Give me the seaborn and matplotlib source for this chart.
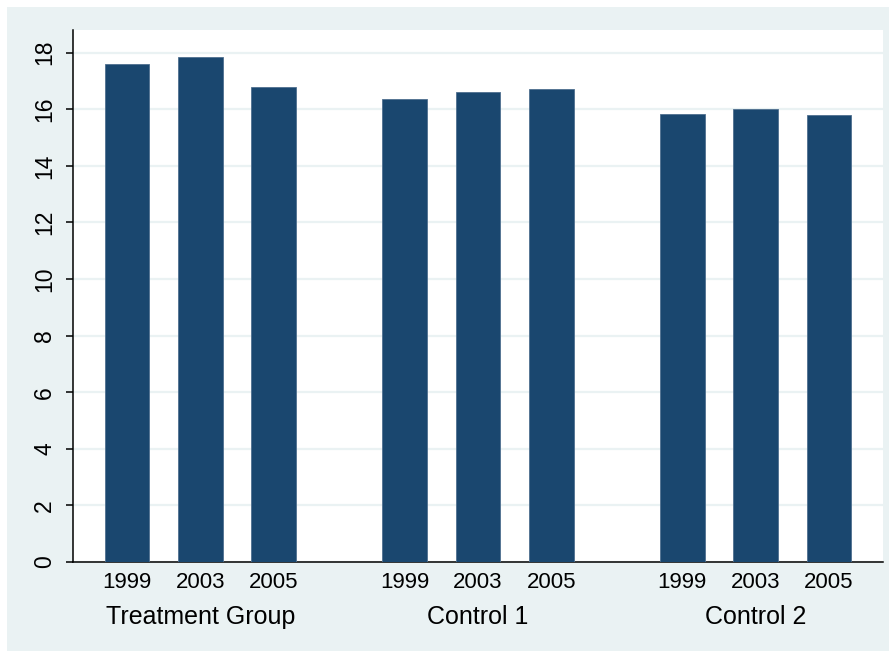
import matplotlib
matplotlib.use('Agg')
import matplotlib.pyplot as plt
import matplotlib.transforms as mtransforms
from matplotlib.patches import Rectangle
import seaborn as sns
import pandas as pd

plt.rcParams['font.family'] = ['Liberation Sans', 'DejaVu Sans']

groups = ['Treatment Group', 'Control 1', 'Control 2']
years = ['1999', '2003', '2005']
values = [
    [17.59, 17.85, 16.80],
    [16.37, 16.60, 16.72],
    [15.82, 16.00, 15.81],
]

BAR_COLOR = '#1A476F'
BG = '#EAF2F3'
GROUP_GAP = 3.78  # distance between first bars of neighbouring groups

rows = []
for gi, g in enumerate(groups):
    for yi, yr in enumerate(years):
        rows.append({'group': g, 'year': yr, 'value': values[gi][yi],
                     'pos': gi * GROUP_GAP + yi})
df = pd.DataFrame(rows)

fig = plt.figure(figsize=(8.96, 6.58), dpi=100)
fig.patch.set_facecolor('white')
fig.patches.append(Rectangle((7 / 896, 7 / 658), 882 / 896, 644 / 658,
                             transform=fig.transFigure, facecolor=BG,
                             edgecolor='none', zorder=-10))

ax = fig.add_axes([73 / 896, 96 / 658, 810 / 896, 532 / 658])
ax.set_facecolor('white')

sns.barplot(data=df, x='pos', y='value', native_scale=True, width=0.61,
            color=BAR_COLOR, saturation=1, edgecolor='#4F6F8F', linewidth=0.6,
            ax=ax, zorder=3)

ax.set_xlim(-0.735, 2 * GROUP_GAP + 2 + 0.735)
ax.set_ylim(0, 18.8)
ax.set_yticks(range(0, 19, 2))
ax.set_yticklabels([str(v) for v in range(0, 19, 2)], rotation=90, va='center')
ax.set_xticks(df['pos'])
ax.set_xticklabels(df['year'])
ax.tick_params(axis='x', length=0, pad=7, labelsize=16)
ax.tick_params(axis='y', length=5, width=1.1, pad=7, labelsize=16.5, direction='out')
ax.set_xlabel('')
ax.set_ylabel('')

ax.grid(axis='y', color=BG, linewidth=1.6, zorder=0)
ax.set_axisbelow(True)
for s in ['top', 'right']:
    ax.spines[s].set_visible(False)
for s in ['left', 'bottom']:
    ax.spines[s].set_linewidth(1.1)
    ax.spines[s].set_color('black')

trans = mtransforms.blended_transform_factory(ax.transData, ax.transAxes)
for gi, g in enumerate(groups):
    ax.text(gi * GROUP_GAP + 1, -0.103, g, transform=trans, ha='center',
            va='center', fontsize=18)

fig.savefig('out.png', dpi=100)
